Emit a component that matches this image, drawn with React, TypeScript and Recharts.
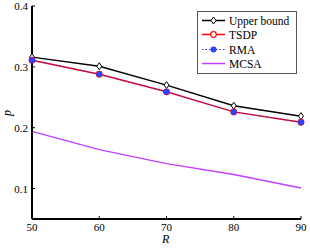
import React from 'react';
import { ComposedChart, Line, XAxis, YAxis } from 'recharts';

const R = [50, 60, 70, 80, 90];
const upperBound = [0.316, 0.301, 0.270, 0.236, 0.219];
const tsdp = [0.311, 0.288, 0.259, 0.226, 0.209];
const rma = [0.311, 0.288, 0.259, 0.226, 0.209];
const mcsa = [0.194, 0.164, 0.141, 0.123, 0.101];
const xTicks = [50, 60, 70, 80, 90];
const yTicks = [0.1, 0.2, 0.3, 0.4];
const seriesNames = ['Upper bound', 'TSDP', 'RMA', 'MCSA'];

const data = R.map((r, i) => ({ R: r, ub: upperBound[i], tsdp: tsdp[i], rma: rma[i], mcsa: mcsa[i] }));

const FONT = "'Liberation Serif', 'DejaVu Serif', serif";
const TL = 3;

const YTickLeft = (p: any) => {
  const ax = p.x + 4;
  return (
    <g>
      <line x1={ax} x2={ax + TL} y1={p.y} y2={p.y} stroke="#000" strokeWidth={1} />
      <text x={p.x} y={p.y} dy={4} textAnchor="end" fontFamily={FONT} fontSize={11} fill="#000">{p.payload.value.toFixed(1)}</text>
    </g>
  );
};
const YTickRight = (p: any) => {
  const ax = p.x - 4;
  return <line x1={ax} x2={ax - TL} y1={p.y} y2={p.y} stroke="#000" strokeWidth={1} />;
};
const XTickBottom = (p: any) => {
  const ay = p.y - 4;
  return (
    <g>
      <line x1={p.x} x2={p.x} y1={ay} y2={ay - TL} stroke="#000" strokeWidth={1} />
      <text x={p.x} y={p.y} dy={8} textAnchor="middle" fontFamily={FONT} fontSize={11} fill="#000">{p.payload.value}</text>
    </g>
  );
};
const XTickTop = (p: any) => {
  const ay = p.y + 4;
  return <line x1={p.x} x2={p.x} y1={ay} y2={ay + TL} stroke="#000" strokeWidth={1} />;
};

const Diamond = (p: any) => {
  const { cx, cy } = p;
  if (cx == null || cy == null) return null;
  return <path key={`d${cx}`} d={`M${cx},${cy - 3.5}L${cx + 2.5},${cy}L${cx},${cy + 3.5}L${cx - 2.5},${cy}Z`} fill="#fff" stroke="#000" strokeWidth={1} />;
};

const LegendBox = () => {
  const rows = [21, 35, 50, 64];
  return (
    <svg width={100} height={63} style={{ display: 'block' }}>
      <rect x={0.5} y={0.5} width={99} height={62} fill="#fff" stroke="#555" strokeWidth={1} />
      {seriesNames.map((n, i) => {
        const y = rows[i] - 11.5;
        return (
          <g key={n}>
            {i === 0 && <line x1={5} x2={28} y1={y} y2={y} stroke="#000" strokeWidth={1.5} />}
            {i === 0 && <path d={`M16.5,${y - 3.5}L19,${y}L16.5,${y + 3.5}L14,${y}Z`} fill="#fff" stroke="#000" />}
            {i === 1 && <line x1={5} x2={28} y1={y} y2={y} stroke="#ff0000" strokeWidth={1.5} />}
            {i === 1 && <circle cx={16.5} cy={y} r={2.8} fill="#fff" stroke="#ff0000" strokeWidth={1.2} />}
            {i === 2 && <line x1={5} x2={28} y1={y} y2={y} stroke="#3030ff" strokeWidth={1.2} strokeDasharray="1.5 2" />}
            {i === 2 && <circle cx={16.5} cy={y} r={3} fill="#3040ff" />}
            {i === 3 && <line x1={5} x2={28} y1={y} y2={y} stroke="#c040ff" strokeWidth={1.5} />}
            <text x={32} y={y} dy={4} fontFamily={FONT} fontSize={11.5} fill="#000">{n}</text>
          </g>
        );
      })}
    </svg>
  );
};

export default function App() {
  return (
    <div style={{ position: 'absolute', left: 0, top: 0, width: 310, height: 248, background: '#fff' }}>
      <ComposedChart width={310} height={248} data={data} margin={{ top: 6, right: 9, bottom: 0, left: 0 }}>
        <XAxis dataKey="R" type="number" domain={[50, 90]} ticks={xTicks} height={29} tickSize={0} tickMargin={4}
          tick={<XTickBottom />} axisLine={{ stroke: '#000', strokeWidth: 2 }} tickLine={false} interval={0} />
        <XAxis xAxisId="top" orientation="top" dataKey="R" type="number" domain={[50, 90]} ticks={xTicks} height={0}
          tickSize={0} tickMargin={4} tick={<XTickTop />} axisLine={{ stroke: '#000', strokeWidth: 1.5 }} tickLine={false} interval={0} />
        <YAxis type="number" domain={[0.05, 0.4]} ticks={yTicks} width={32} tickSize={0} tickMargin={4}
          tick={<YTickLeft />} axisLine={{ stroke: '#000', strokeWidth: 2 }} tickLine={false} interval={0} allowDataOverflow />
        <YAxis yAxisId="right" orientation="right" type="number" domain={[0.05, 0.4]} ticks={yTicks} width={0} tickSize={0}
          tickMargin={4} tick={<YTickRight />} axisLine={{ stroke: '#000', strokeWidth: 1.5 }} tickLine={false} interval={0} />
        <Line dataKey="mcsa" stroke="#c040ff" strokeWidth={1.5} dot={false} isAnimationActive={false} />
        <Line dataKey="ub" stroke="#000" strokeWidth={1.5} dot={<Diamond />} isAnimationActive={false} />
        <Line dataKey="tsdp" stroke="#ff0000" strokeWidth={1.5} dot={{ r: 2.8, fill: '#fff', stroke: '#ff0000', strokeWidth: 1.2 }} isAnimationActive={false} />
        <Line dataKey="rma" stroke="#3030ff" strokeWidth={1} strokeDasharray="1.5 2" dot={{ r: 3, fill: '#3040ff', stroke: 'none' }} isAnimationActive={false} />
      </ComposedChart>
      <div style={{ position: 'absolute', left: 162, top: 233, fontFamily: FONT, fontStyle: 'italic', fontSize: 12, lineHeight: '12px' }}>R</div>
      <div style={{ position: 'absolute', left: 4, top: 106, fontFamily: FONT, fontStyle: 'italic', fontSize: 12, lineHeight: '14px', transform: 'rotate(-90deg)' }}>p</div>
      <div style={{ position: 'absolute', left: 197, top: 11 }}><LegendBox /></div>
    </div>
  );
}
